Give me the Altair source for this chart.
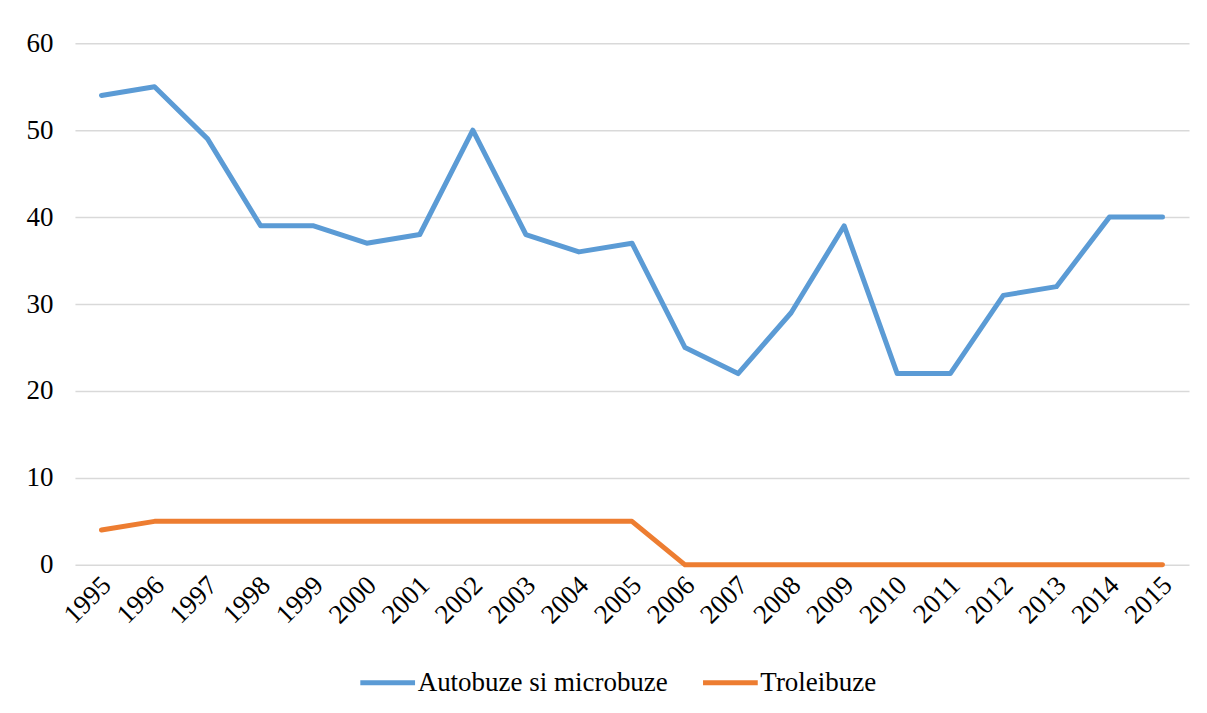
import altair as alt
import pandas as pd

years = [str(y) for y in range(1995, 2016)]
autobuze = [54, 55, 49, 39, 39, 37, 38, 50, 38, 36, 37, 25, 22, 29, 39, 22, 22, 31, 32, 40, 40]
troleibuze = [4, 5, 5, 5, 5, 5, 5, 5, 5, 5, 5, 0, 0, 0, 0, 0, 0, 0, 0, 0, 0]
series_names = ["Autobuze si microbuze", "Troleibuze"]
colors = ["#5B9BD5", "#ED7D31"]

rows = []
for i, y in enumerate(years):
    rows.append({"year": y, "series": series_names[0], "value": autobuze[i]})
    rows.append({"year": y, "series": series_names[1], "value": troleibuze[i]})
df = pd.DataFrame(rows)

FONT = "Liberation Serif"
FS = 27
TXT = "black"

chart = alt.Chart(df).mark_line(strokeWidth=5, strokeCap="round", strokeJoin="round").encode(
    x=alt.X("year:O", sort=years,
            scale=alt.Scale(type="point", padding=0.5),
            axis=alt.Axis(title=None, labelAngle=-45, labelAlign="right", labelBaseline="middle",
                          labelPadding=16, labelOffset=5, ticks=False, domain=False, grid=False,
                          labelFont=FONT, labelFontSize=FS, labelColor=TXT)),
    y=alt.Y("value:Q", scale=alt.Scale(domain=[0, 60]),
            axis=alt.Axis(title=None, values=[0, 10, 20, 30, 40, 50, 60], ticks=False, domain=False,
                          labelPadding=22, gridColor="#D9D9D9", gridWidth=1.5,
                          labelFont=FONT, labelFontSize=FS, labelColor=TXT)),
    color=alt.Color("series:N", sort=series_names,
                    scale=alt.Scale(domain=series_names, range=colors),
                    legend=alt.Legend(title=None, orient="none", legendX=283, legendY=610,
                                      direction="horizontal",
                                      symbolType="stroke", symbolStrokeWidth=5, symbolSize=3000,
                                      columnPadding=24, labelOffset=0, labelLimit=400,
                                      labelFont=FONT, labelFontSize=FS, labelColor=TXT)),
    detail="series:N",
).properties(
    width=1115,
    height=522,
    padding={"left": 67, "top": 35, "right": 10, "bottom": 140},
    autosize=alt.AutoSizeParams(type="none"),
).configure_view(stroke=None)

chart.save("out.html", embed_options={"renderer": "svg", "actions": False})
